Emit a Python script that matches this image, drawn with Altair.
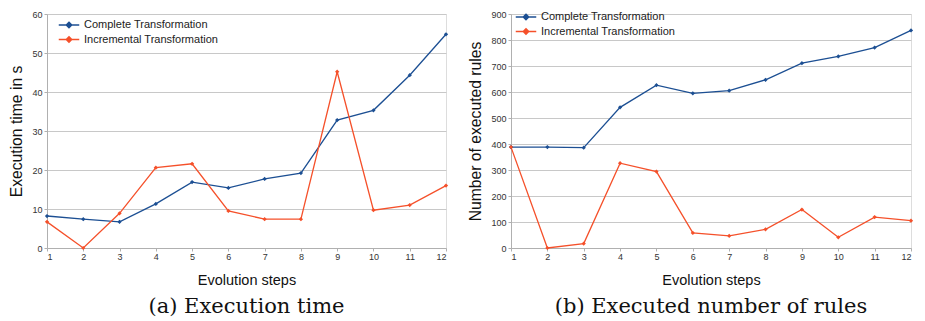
import altair as alt
import pandas as pd

steps = list(range(1, 13))
series_names = ["Complete Transformation", "Incremental Transformation"]
time_complete = [8.2, 7.4, 6.7, 11.3, 16.9, 15.4, 17.7, 19.2, 32.8, 35.3, 44.3, 54.8]
time_incremental = [6.7, 0.0, 8.9, 20.6, 21.6, 9.5, 7.4, 7.4, 45.2, 9.7, 11.0, 16.0]
rules_complete = [388, 388, 386, 541, 626, 595, 605, 647, 711, 737, 771, 837]
rules_incremental = [388, 0, 17, 326, 294, 58, 47, 72, 148, 41, 119, 105]
colors = ["#1c4f93", "#f5502a"]

def make_df(a, b):
    rows = []
    for s, v in zip(steps, a):
        rows.append({"step": s, "value": v, "series": series_names[0]})
    for s, v in zip(steps, b):
        rows.append({"step": s, "value": v, "series": series_names[1]})
    return pd.DataFrame(rows)

LEG_SYMBOL = "M-1.45,0H1.45M0,-0.38L0.38,0L0,0.38L-0.38,0Z"

def panel(df, ytitle, ymax, ystep, caption, w, h, legx, legy):
    color = alt.Color(
        "series:N",
        scale=alt.Scale(domain=series_names, range=colors),
        legend=alt.Legend(
            title=None, orient="none", legendX=legx, legendY=legy,
            symbolType=LEG_SYMBOL, symbolSize=200, symbolStrokeWidth=1.5,
            labelFont="Liberation Sans", labelFontSize=11, labelColor="#222",
            rowPadding=0.5, labelOffset=7,
        ),
    )
    x = alt.X("step:Q", title="Evolution steps",
              scale=alt.Scale(domain=[1, 12], nice=False),
              axis=alt.Axis(values=steps, format="d", grid=False, labelFontSize=9,
                            titleFontSize=14.5, titlePadding=12, titleFontWeight="normal",
                            titleFont="Liberation Sans", labelFont="Liberation Sans",
                            titleColor="#111",
                            labelColor="#333", tickSize=3, tickColor="#b0b0b0",
                            domainColor="#b0b0b0", labelPadding=1))
    y = alt.Y("value:Q", title=ytitle,
              scale=alt.Scale(domain=[0, ymax], nice=False),
              axis=alt.Axis(values=list(range(0, ymax + 1, ystep)), labelFontSize=9,
                            titleFontSize=15.7, titleFontWeight="normal",
                            titleFont="Liberation Sans", labelFont="Liberation Sans",
                            labelColor="#333", tickSize=3, tickColor="#b0b0b0",
                            domainColor="#b0b0b0", gridColor="#c8c8c8",
                            labelPadding=2, titlePadding=7, titleColor="#111"))
    base = alt.Chart(df).encode(x=x, y=y, color=color)
    lines = base.mark_line(strokeWidth=1.3)
    pts = base.mark_point(shape="diamond", filled=True, size=18, opacity=1)
    return alt.layer(lines, pts).properties(
        width=w, height=h,
        title=alt.TitleParams(caption, orient="bottom", font="DejaVu Serif",
                              fontSize=21, fontWeight="normal", color="#111", offset=9),
    )

left = panel(make_df(time_complete, time_incremental), "Execution time in s", 60, 10,
             "(a) Execution time", 399, 234, 14, 3)
right = panel(make_df(rules_complete, rules_incremental), "Number of executed rules", 900, 100,
              "(b) Executed number of rules", 400, 234, 7, -5)

chart = alt.hconcat(left, right, spacing=17).resolve_scale(color="independent").configure_view(
    stroke="#c8c8c8"
).properties(padding={"left": 0, "top": 0, "right": 0, "bottom": 0}).configure(background="white")

chart.save("out.html", embed_options={"renderer": "svg", "actions": False})
